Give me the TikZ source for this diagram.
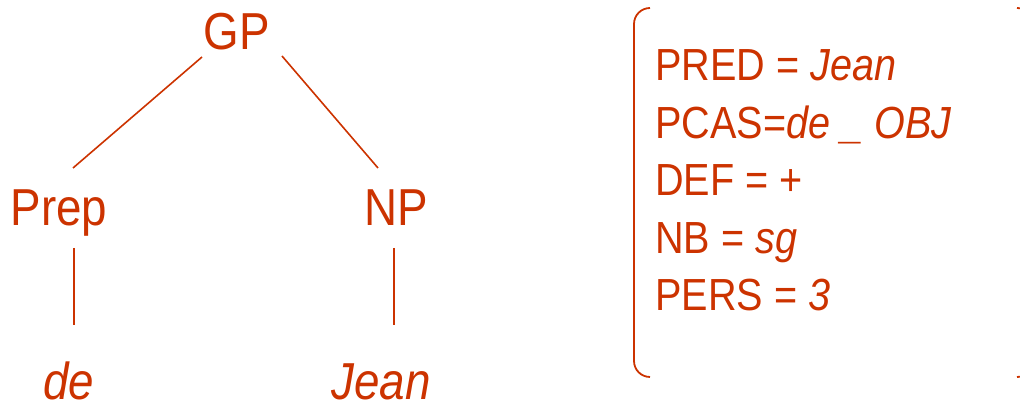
\documentclass[tikz,border=0pt]{standalone}
\usepackage{fontspec}
\setmainfont{Liberation Sans}[FakeStretch=0.88]

\begin{document}
\begin{tikzpicture}[x=1pt, y=1pt, line cap=butt]

  \definecolor{fsRed}{RGB}{204,51,0}
  \tikzset{
    cat/.style={anchor=base, inner sep=0pt, text=fsRed, font=\fontsize{52}{52}\selectfont},
    feat/.style={anchor=base west, inner sep=0pt, text=fsRed, font=\fontsize{45}{45}\selectfont},
    branch/.style={draw=fsRed, line width=1.6pt}
  }

  \useasboundingbox (0,0) rectangle (1020,406);
  \clip (0,0) rectangle (1020,406);

  % tree
  \node[cat] (gp)   at (237,356) {GP};
  \node[cat] (prep) at (59,180)  {Prep};
  \node[cat] (np)   at (396,180) {NP};
  \node[cat] (de)   at (69,6)    {\textit{de}};
  \node[cat] (jean) at (381,6)   {\textit{Jean}};

  \draw[branch] ([shift={(-35,-7)}]gp.base) -- ([shift={(14,58)}]prep.base);
  \draw[branch] ([shift={(45,-6)}]gp.base)  -- ([shift={(-18,58)}]np.base);
  \draw[branch] ([shift={(15,-22)}]prep.base) -- ([shift={(5,75)}]de.base);
  \draw[branch] ([shift={(-2,-22)}]np.base)   -- ([shift={(13,75)}]jean.base);

  % feature structure
  \foreach \f [count=\i] in {PRED = \textit{Jean}, PCAS=\textit{de \_ OBJ},
      DEF = +, NB = \textit{sg}, PERS = \textit{3}}
    \node[feat] (f\i) at (655,{325-57.5*(\i-1)}) {\f};

  % brackets
  \draw[fsRed, line width=1.8pt, rounded corners=16pt]
    (650,398) -- (634,398) -- (634,29) -- (650,29);
  \draw[fsRed, line width=1.8pt, rounded corners=16pt]
    (1017,398) -- (1033,398) -- (1033,29) -- (1017,29);

\end{tikzpicture}
\end{document}
